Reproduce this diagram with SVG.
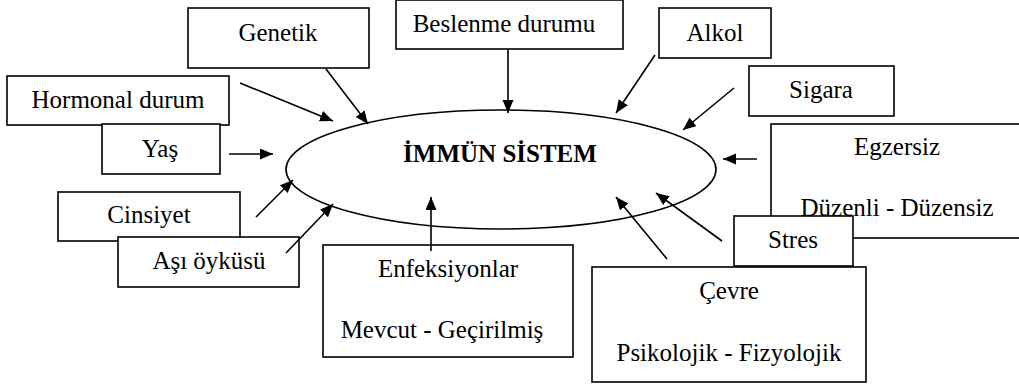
<svg xmlns="http://www.w3.org/2000/svg" width="1019" height="385" viewBox="0 0 1019 385">
<style>
.box{fill:#fff;stroke:#000;stroke-width:1.6}
.t{font-family:"Liberation Serif","Times New Roman",serif;font-size:25px;fill:#000;text-anchor:middle}
.b{font-weight:bold}
.c{stroke:#000;stroke-width:1.6;fill:none;marker-end:url(#ah)}
</style>
<defs>
<marker id="ah" markerUnits="userSpaceOnUse" markerWidth="14" markerHeight="12" refX="13" refY="5.5" orient="auto">
<path d="M0,0 L13,5.5 L0,11 z" fill="#000"/>
</marker>
</defs>
<rect width="1019" height="385" fill="#fff"/>
<g id="immun">
<ellipse cx="501" cy="169.5" rx="215" ry="59.5" fill="none" stroke="#000" stroke-width="1.6"/>
<text class="t b" x="500" y="162">İMMÜN SİSTEM</text>
</g>
<g id="genetik"><rect class="box" x="188" y="8" width="181" height="60"/><text class="t" x="278" y="41">Genetik</text></g>
<g id="hormonal"><rect class="box" x="7" y="76" width="222" height="49"/><text class="t" x="118" y="108">Hormonal durum</text></g>
<g id="yas"><rect class="box" x="102" y="124" width="118" height="50"/><text class="t" x="160" y="157">Yaş</text></g>
<g id="beslenme"><rect class="box" x="396" y="0" width="227" height="49"/><text class="t" x="504" y="32">Beslenme durumu</text></g>
<g id="alkol"><rect class="box" x="659" y="8" width="112" height="50"/><text class="t" x="715" y="41">Alkol</text></g>
<g id="sigara"><rect class="box" x="749" y="66" width="145" height="50"/><text class="t" x="821" y="98">Sigara</text></g>
<g id="egzersiz"><rect class="box" x="771" y="124" width="260" height="114"/><text class="t" x="897" y="155">Egzersiz</text><text class="t" x="897" y="216">Düzenli - Düzensiz</text></g>
<g id="stres"><rect class="box" x="734" y="216" width="119" height="50"/><text class="t" x="793" y="248">Stres</text></g>
<g id="cevre"><rect class="box" x="592" y="267" width="274" height="115"/><text class="t" x="729" y="299">Çevre</text><text class="t" x="729" y="361">Psikolojik - Fizyolojik</text></g>
<g id="enfeksiyonlar"><rect class="box" x="323" y="245" width="250" height="112"/><text class="t" x="448" y="277">Enfeksiyonlar</text><text class="t" x="442" y="338">Mevcut - Geçirilmiş</text></g>
<g id="cinsiyet"><rect class="box" x="58" y="192" width="182" height="49"/><text class="t" x="149" y="223">Cinsiyet</text></g>
<g id="asi"><rect class="box" x="118" y="237" width="181" height="50"/><text class="t" x="209" y="269">Aşı öyküsü</text></g>
<g id="connectors">
<line class="c" x1="240" y1="83" x2="333" y2="121"/>
<line class="c" x1="326" y1="69" x2="368" y2="124"/>
<line class="c" x1="229" y1="154" x2="273" y2="154"/>
<line class="c" x1="508" y1="49" x2="508" y2="113"/>
<line class="c" x1="655" y1="55" x2="616" y2="113"/>
<line class="c" x1="734" y1="88" x2="683" y2="130"/>
<line class="c" x1="757" y1="159" x2="723" y2="159"/>
<line class="c" x1="722" y1="241" x2="656" y2="193"/>
<line class="c" x1="667" y1="259" x2="616" y2="197"/>
<line class="c" x1="431" y1="251" x2="431" y2="197"/>
<line class="c" x1="256" y1="217" x2="293" y2="180"/>
<line class="c" x1="286" y1="253" x2="333" y2="204"/>
</g>
</svg>
